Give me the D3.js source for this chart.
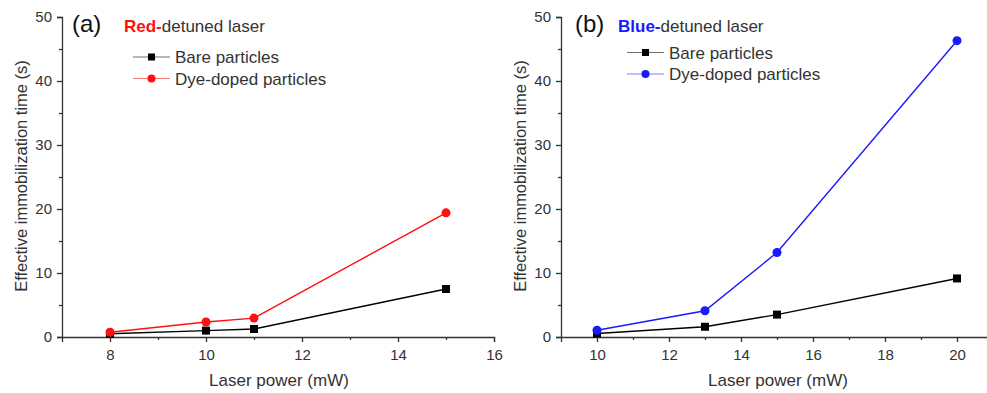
<!DOCTYPE html>
<html>
<head>
<meta charset="utf-8">
<script src="https://cdn.jsdelivr.net/npm/d3@7"></script>
<style>
  body { margin: 0; background: #fff; }
  svg { display: block; font-family: Arial, "Liberation Sans", sans-serif; }
</style>
</head>
<body>
<div id="chart"></div>
<script>
// panel (a): red-detuned laser
const powerA = [8, 10, 11, 15];
const bareA = [0.5, 1.0, 1.25, 7.5];
const dyeA = [0.75, 2.35, 2.95, 19.4];

// panel (b): blue-detuned laser
const powerB = [10, 13, 15, 20];
const bareB = [0.55, 1.6, 3.5, 9.15];
const dyeB = [1.05, 4.1, 13.2, 46.3];

const yTicks = [0, 10, 20, 30, 40, 50];

const W = 987, H = 393;
const ink = '#333';

const svg = d3.select('#chart').append('svg')
  .attr('width', W).attr('height', H);

function panel(opt) {
  const x = d3.scaleLinear().domain(opt.xDomain).range(opt.xRange);
  const y = d3.scaleLinear().domain([0, 50]).range([337, 17]);
  const g = svg.append('g');

  // y axis
  const yAxis = d3.axisLeft(y).tickValues(yTicks).tickSize(5).tickPadding(5);
  const gy = g.append('g').attr('transform', `translate(${opt.xRange[0]},0)`).call(yAxis);
  gy.append('g').call(d3.axisLeft(y).tickValues(d3.range(5, 50, 10)).tickSize(3).tickFormat(''))
    .select('.domain').remove();

  // x axis
  const xAxis = d3.axisBottom(x).tickValues(opt.xTicks).tickSize(5).tickPadding(7);
  const gx = g.append('g').attr('transform', 'translate(0,337)').call(xAxis);
  gx.append('g').call(d3.axisBottom(x).tickValues(opt.xMinor).tickSize(3).tickFormat(''))
    .select('.domain').remove();

  [gx, gy].forEach(a => {
    a.selectAll('.domain, line').attr('stroke', ink).attr('stroke-width', 1.3);
    a.selectAll('text').attr('fill', ink).style('font-size', '15px');
  });

  // axis titles
  g.append('text')
    .attr('transform', `translate(${opt.xRange[0] - 35},${176}) rotate(-90)`)
    .attr('text-anchor', 'middle').attr('fill', ink).style('font-size', '16.5px')
    .text('Effective immobilization time (s)');
  g.append('text')
    .attr('x', (opt.xLabelX)).attr('y', 386)
    .attr('text-anchor', 'middle').attr('fill', ink).style('font-size', '17px')
    .text('Laser power (mW)');

  const line = d3.line().x(d => x(d[0])).y(d => y(d[1]));
  const bare = opt.power.map((p, i) => [p, opt.bare[i]]);
  const dye = opt.power.map((p, i) => [p, opt.dye[i]]);

  g.append('path').datum(bare).attr('d', line).attr('fill', 'none')
    .attr('stroke', '#000').attr('stroke-width', 1.4);
  g.append('path').datum(dye).attr('d', line).attr('fill', 'none')
    .attr('stroke', opt.color).attr('stroke-width', 1.4);

  g.selectAll('.sq').data(bare).enter().append('rect')
    .attr('x', d => x(d[0]) - 4).attr('y', d => y(d[1]) - 4)
    .attr('width', 8).attr('height', 8).attr('fill', '#000');
  g.selectAll('.ci').data(dye).enter().append('circle')
    .attr('cx', d => x(d[0])).attr('cy', d => y(d[1])).attr('r', 4.5)
    .attr('fill', opt.color);

  // panel label and title
  g.append('text').attr('x', opt.tagX).attr('y', 32)
    .attr('fill', '#111').style('font-size', '24px').text(opt.tag);
  const t = g.append('text').attr('x', opt.titleX).attr('y', 32)
    .attr('fill', ink).style('font-size', '17px');
  t.append('tspan').attr('fill', opt.color).attr('font-weight', 'bold').text(opt.word + '-');
  t.append('tspan').text('detuned laser');

  // legend
  const lg = g.append('g').attr('transform', `translate(${opt.legX},0)`);
  const items = [
    { label: 'Bare particles', color: '#000', shape: 'sq', y: opt.legY },
    { label: 'Dye-doped particles', color: opt.color, shape: 'ci', y: opt.legY + 21.5 }
  ];
  items.forEach(it => {
    lg.append('line').attr('x1', 0).attr('x2', 37).attr('y1', it.y).attr('y2', it.y)
      .attr('stroke', it.color).attr('stroke-width', 0.8).attr('opacity', 0.7);
    if (it.shape === 'sq') {
      lg.append('rect').attr('x', 15).attr('y', it.y - 3.5).attr('width', 7).attr('height', 7).attr('fill', it.color);
    } else {
      lg.append('circle').attr('cx', 18.5).attr('cy', it.y).attr('r', 4).attr('fill', it.color);
    }
    lg.append('text').attr('x', 42).attr('y', it.y + 6)
      .attr('fill', ink).style('font-size', '17px').text(it.label);
  });
}

panel({
  xDomain: [7, 16], xRange: [62, 494], xTicks: [8, 10, 12, 14, 16], xMinor: [9, 11, 13, 15],
  power: powerA, bare: bareA, dye: dyeA, color: '#ff1010',
  tag: '(a)', tagX: 72, word: 'Red', titleX: 124, legX: 133, legY: 57, xLabelX: 279
});

panel({
  xDomain: [9, 21], xRange: [561, 993], xTicks: [10, 12, 14, 16, 18, 20], xMinor: [11, 13, 15, 17, 19],
  power: powerB, bare: bareB, dye: dyeB, color: '#1a1aff',
  tag: '(b)', tagX: 575, word: 'Blue', titleX: 618, legX: 627, legY: 52.5, xLabelX: 778
});
</script>
</body>
</html>
